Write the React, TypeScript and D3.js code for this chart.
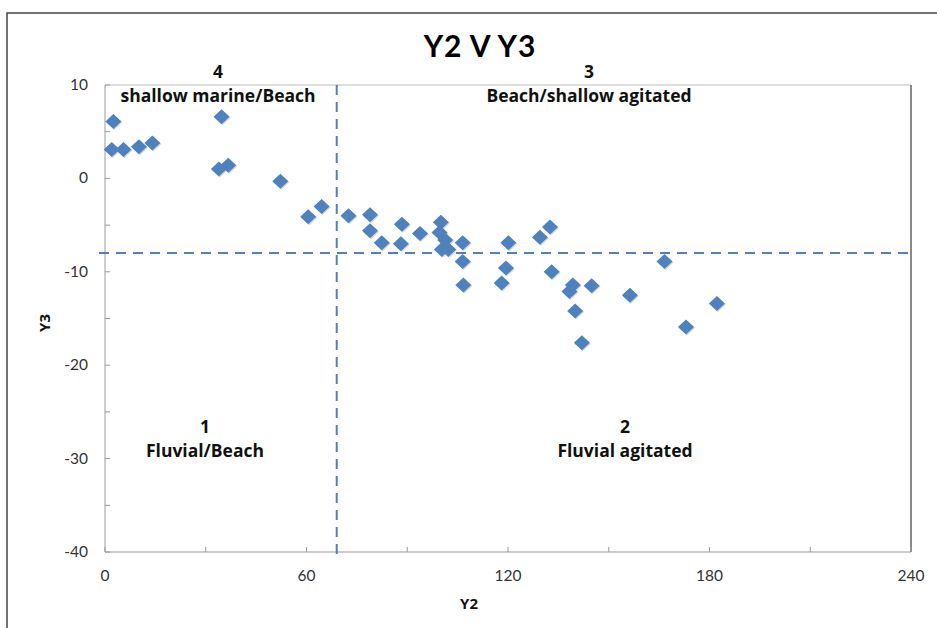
import React from "react";
import * as d3 from "d3";

const y2Values = [2.5, 2.0, 5.5, 10.1, 14.1, 34.7, 33.9, 36.7, 52.2, 60.5, 64.5, 72.5,
  78.9, 78.9, 82.4, 88.4, 88.1, 93.8, 100.0, 99.6, 101.3, 100.3, 102.2, 106.5, 106.5, 106.7,
  120.1, 119.4, 118.1, 129.5, 132.5, 133.0, 139.3, 138.3, 144.9, 140.0, 142.0, 156.3, 166.6, 173.0, 182.2];
const y3Values = [6.1, 3.1, 3.1, 3.4, 3.8, 6.6, 1.0, 1.4, -0.3, -4.1, -3.0, -4.0,
  -3.9, -5.6, -6.9, -4.9, -7.0, -5.9, -4.7, -5.8, -6.6, -7.6, -7.6, -6.9, -8.9, -11.4,
  -6.9, -9.6, -11.2, -6.3, -5.2, -10.0, -11.4, -12.1, -11.5, -14.2, -17.6, -12.5, -8.9, -15.9, -13.4];

const xTickValues = [0, 60, 120, 180, 240];
const xMinorTicks = [0, 30, 60, 90, 120, 150, 180, 210, 240];
const yTickValues = [10, 0, -10, -20, -30, -40];
const yMinorTicks = [10, 5, 0, -5, -10, -15, -20, -25, -30, -35, -40];
const dividerX = 69;
const dividerY = -8;

const quadrantNumbers = ["4", "3", "1", "2"];
const quadrantNames = ["shallow marine/Beach", "Beach/shallow agitated", "Fluvial/Beach", "Fluvial agitated"];

const W = 937, H = 628;
const left = 105, right = 911, top = 85, bottom = 552;
const font = "Lato, 'Open Sans', sans-serif";
const boldFont = "'Open Sans', Lato, sans-serif";

export default function App() {
  const x = d3.scaleLinear().domain([0, 240]).range([left, right]);
  const y = d3.scaleLinear().domain([-40, 10]).range([bottom, top]);
  const blue = "#4f81bd";
  const diamond = (cx: number, cy: number) =>
    `M${cx},${cy - 7.5}L${cx + 8},${cy}L${cx},${cy + 7.5}L${cx - 8},${cy}Z`;

  const quadPos = [
    { cx: 218, nY: 78, tY: 102 },
    { cx: 589, nY: 78, tY: 102 },
    { cx: 205, nY: 433, tY: 457 },
    { cx: 625, nY: 433, tY: 457 },
  ];

  return (
    <svg width={W} height={H} style={{ position: "absolute", left: 0, top: 0, background: "#fff" }}>
      <rect x={0} y={0} width={W} height={H} fill="#fff" />
      <rect x={7} y={13} width={W + 10} height={H + 10} fill="none" stroke="#444" strokeWidth={1.5} />
      <line x1={left} x2={right} y1={top} y2={top} stroke="#bbb" strokeWidth={1} />
      <line x1={right} x2={right} y1={top} y2={bottom} stroke="#8a8a8a" strokeWidth={2} />
      <line x1={left} x2={left} y1={top} y2={bottom} stroke="#9a9a9a" strokeWidth={1} />
      <line x1={left} x2={right} y1={bottom} y2={bottom} stroke="#9a9a9a" strokeWidth={1} />
      {yMinorTicks.map((v) => (
        <line key={"yt" + v} x1={left} x2={left + 5} y1={y(v)} y2={y(v)} stroke="#9a9a9a" />
      ))}
      {xMinorTicks.map((v) => (
        <line key={"xt" + v} x1={x(v)} x2={x(v)} y1={bottom} y2={bottom - 5} stroke="#9a9a9a" />
      ))}
      {yTickValues.map((v) => (
        <text key={"yl" + v} x={88} y={y(v) + 5} textAnchor="end" fontFamily={font} fontSize={15.5} fill="#333">
          {v}
        </text>
      ))}
      {xTickValues.map((v) => (
        <text key={"xl" + v} x={x(v)} y={581} textAnchor="middle" fontFamily={font} fontSize={15.5} fill="#333">
          {v}
        </text>
      ))}
      <line x1={x(dividerX)} x2={x(dividerX)} y1={top} y2={bottom + 4} stroke={blue} strokeWidth={2} strokeDasharray="10,7" />
      <line x1={left - 6} x2={right} y1={y(dividerY)} y2={y(dividerY)} stroke={blue} strokeWidth={2} strokeDasharray="10,7" />
      {y2Values.map((v, i) => (
        <path key={"p" + i} d={diamond(x(v) + 1, y(y3Values[i]) + 1)} fill="#9aa7b8" opacity={0.45} />
      ))}
      {y2Values.map((v, i) => (
        <path key={"d" + i} d={diamond(x(v), y(y3Values[i]))} fill={blue} />
      ))}
      <text x={480} y={57} textAnchor="middle" fontFamily={font} fontWeight="bold" fontSize={30} letterSpacing={1} fill="#000">
        Y2 V Y3
      </text>
      {quadPos.map((p, i) => (
        <g key={"q" + i}>
          <text x={p.cx} y={p.nY} textAnchor="middle" fontFamily={boldFont} fontWeight="bold" fontSize={17.5} fill="#111">
            {quadrantNumbers[i]}
          </text>
          <text x={p.cx} y={p.tY} textAnchor="middle" fontFamily={boldFont} fontWeight="bold" fontSize={17.5} fill="#111">
            {quadrantNames[i]}
          </text>
        </g>
      ))}
      <text x={469} y={609} textAnchor="middle" fontFamily={boldFont} fontWeight="bold" fontSize={15} fill="#111">
        Y2
      </text>
      <text transform={`translate(50,${323}) rotate(-90)`} textAnchor="middle" fontFamily={boldFont} fontWeight="bold" fontSize={15} fill="#111">
        Y3
      </text>
    </svg>
  );
}
